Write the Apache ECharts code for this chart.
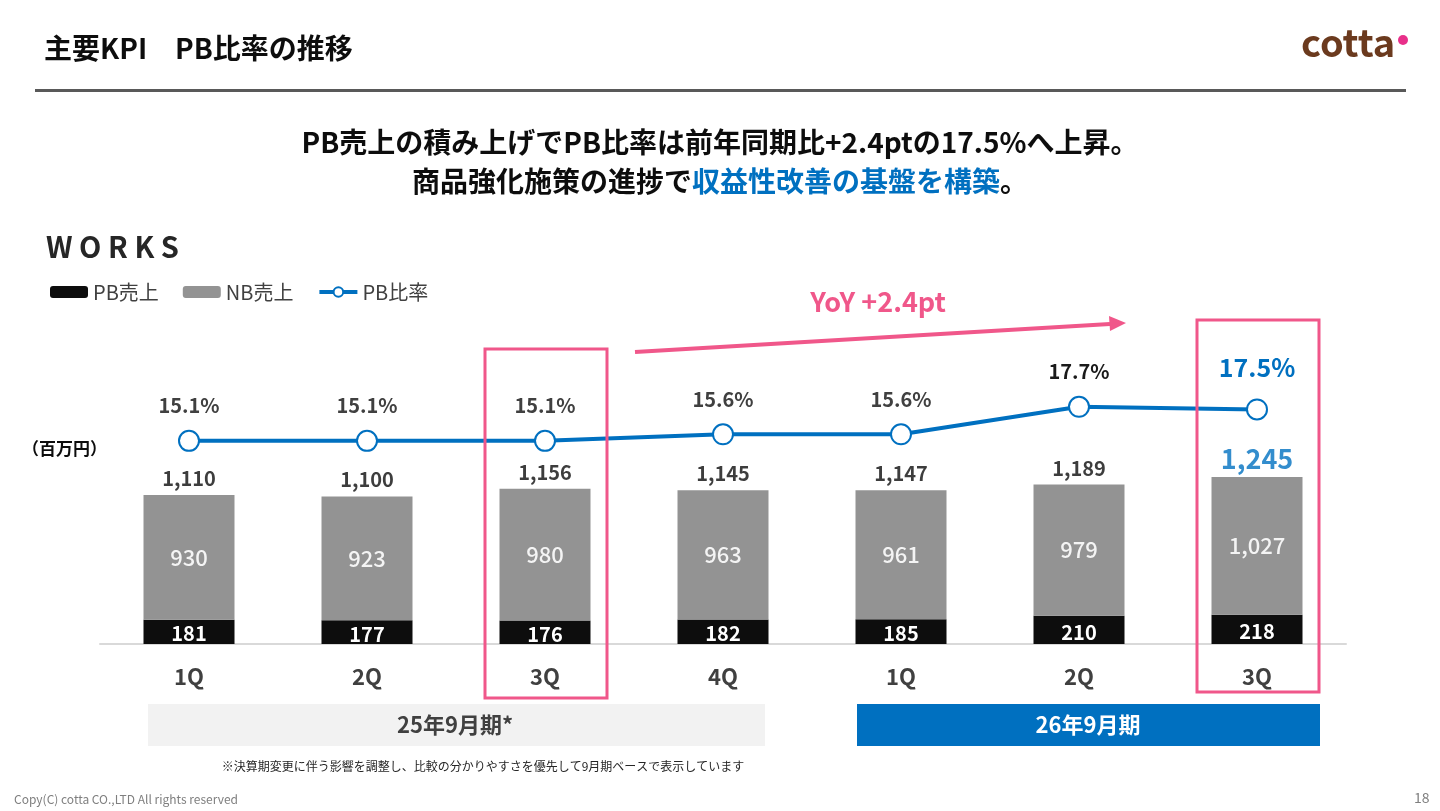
<!DOCTYPE html>
<html>
<head>
<meta charset="utf-8">
<script src="https://cdn.jsdelivr.net/npm/echarts@6/dist/echarts.min.js"></script>
<style>
  html, body { margin: 0; padding: 0; background: #fff; }
  #chart { width: 1440px; height: 811px; }
</style>
</head>
<body>
<div id="chart"></div>
<script>
// data
const quarters = ['1Q', '2Q', '3Q', '4Q', '1Q', '2Q', '3Q'];
const pbSales = [181, 177, 176, 182, 185, 210, 218];
const nbSales = [930, 923, 980, 963, 961, 979, 1027];
const totalSales = [1110, 1100, 1156, 1145, 1147, 1189, 1245];
const pbRatio = [15.1, 15.1, 15.1, 15.6, 15.6, 17.7, 17.5];
const latest = quarters.length - 1;

const FONT = '"Noto Sans CJK JP", "Noto Sans", sans-serif';
const BLUE = '#0070C0';
const PINK = '#F0578A';

var chart = echarts.init(document.getElementById('chart'));

const totalData = totalSales.map((v, i) => i === latest
  ? {value: v, label: {color: BLUE, fontSize: 27, distance: 4}}
  : v);
const ratioData = pbRatio.map((v, i) => {
  if (i === latest) return {value: v, label: {color: BLUE, fontSize: 25, distance: 18}};
  if (i === latest - 1) return {value: v, label: {color: '#1a1a1a'}};
  return v;
});

chart.setOption({
  animation: false,
  textStyle: {fontFamily: FONT},
  legend: {
    data: ['PB売上', 'NB売上', {name: 'PB比率', itemStyle: {borderWidth: 3}, lineStyle: {width: 4}}],
    left: 45,
    top: 277,
    itemWidth: 38,
    itemHeight: 12,
    itemGap: 24,
    textStyle: {fontSize: 20, color: '#404040', fontFamily: FONT}
  },
  grid: {left: 100, right: 94, top: 308.5, bottom: 167},
  xAxis: {
    type: 'category',
    data: quarters,
    axisLine: {lineStyle: {color: '#d9d9d9', width: 2}},
    axisTick: {show: false},
    axisLabel: {fontSize: 22, fontWeight: 'bold', color: '#404040', margin: 22, fontFamily: FONT}
  },
  yAxis: [
    {type: 'value', min: 0, max: 2500, show: false, splitLine: {show: false}},
    {type: 'value', min: -0.4, max: 25.2, show: false, splitLine: {show: false}}
  ],
  series: [
    {
      name: 'PB売上',
      type: 'bar',
      stack: 'sales',
      barWidth: 91,
      data: pbSales,
      itemStyle: {color: '#0d0d0d'},
      label: {show: true, position: 'inside', color: '#fff', fontSize: 20, fontWeight: 'bold', offset: [0, 2], fontFamily: FONT}
    },
    {
      name: 'NB売上',
      type: 'bar',
      stack: 'sales',
      barWidth: 91,
      data: nbSales,
      itemStyle: {color: '#939393'},
      label: {
        show: true, position: 'inside', color: '#f4f4f4', fontSize: 22, fontWeight: 500, fontFamily: FONT,
        formatter: p => p.value.toLocaleString('en-US')
      }
    },
    {
      name: 'total',
      type: 'scatter',
      data: totalData,
      symbolSize: 1,
      itemStyle: {color: 'rgba(0,0,0,0)'},
      label: {
        show: true, position: 'top', distance: 6, color: '#0d0d0d', fontSize: 20, fontWeight: 'bold', fontFamily: FONT,
        formatter: p => p.value.toLocaleString('en-US')
      },
      z: 5
    },
    {
      name: 'PB比率',
      type: 'line',
      yAxisIndex: 1,
      data: ratioData,
      symbol: 'emptyCircle',
      symbolSize: 20,
      lineStyle: {color: BLUE, width: 4},
      itemStyle: {color: BLUE, borderWidth: 4},
      label: {
        show: true, position: 'top', distance: 14, color: '#404040', fontSize: 20, fontWeight: 'bold', fontFamily: FONT,
        formatter: p => p.value.toFixed(1) + '%'
      },
      z: 6
    }
  ],
  graphic: [
    // header
    {type: 'text', left: 44, top: 34, style: {text: '主要KPI　PB比率の推移', font: 'bold 28px ' + FONT, fill: '#0d0d0d'}},
    {type: 'rect', shape: {x: 35, y: 89, width: 1371, height: 3}, style: {fill: '#595959'}},
    {type: 'text', left: 1301, top: 24, style: {text: 'cotta', font: '600 38px ' + FONT, fill: '#6B3A1E'}},
    {type: 'circle', shape: {cx: 1403, cy: 40, r: 5}, style: {fill: '#E8308A'}},
    // headline
    {type: 'text', x: 720, y: 142, style: {text: 'PB売上の積み上げでPB比率は前年同期比+2.4ptの17.5%へ上昇。', font: 'bold 28px ' + FONT, fill: '#0d0d0d', align: 'center', verticalAlign: 'middle'}},
    {type: 'text', x: 720, y: 181, style: {
      text: '{k|商品強化施策の進捗で}{b|収益性改善の基盤を構築}{k|。}',
      align: 'center', verticalAlign: 'middle',
      rich: {
        k: {font: 'bold 28px ' + FONT, fill: '#0d0d0d', color: '#0d0d0d'},
        b: {font: 'bold 28px ' + FONT, fill: BLUE, color: BLUE}
      }
    }},
    // section label
    {type: 'text', left: 46, top: 232, style: {text: 'W O R K S', font: 'bold 29px ' + FONT, fill: '#262626'}},
    {type: 'text', left: 22, top: 440, style: {text: '（百万円）', font: 'bold 17px ' + FONT, fill: '#0d0d0d'}},
    // highlight boxes
    {type: 'rect', shape: {x: 485, y: 349, width: 122, height: 349}, style: {fill: 'none', stroke: PINK, lineWidth: 3}, z: 10},
    {type: 'rect', shape: {x: 1197, y: 320, width: 122, height: 372}, style: {fill: 'none', stroke: PINK, lineWidth: 3}, z: 10},
    // yoy arrow
    {type: 'line', shape: {x1: 635, y1: 352, x2: 1110, y2: 324}, style: {stroke: PINK, lineWidth: 4}},
    {type: 'polygon', shape: {points: [[1126, 323], [1109, 316], [1110, 331]]}, style: {fill: PINK}},
    {type: 'text', x: 878, y: 302, style: {text: 'YoY +2.4pt', font: 'bold 27px ' + FONT, fill: PINK, align: 'center', verticalAlign: 'middle'}},
    // fiscal period bands
    {type: 'rect', shape: {x: 148, y: 704, width: 617, height: 42}, style: {fill: '#f2f2f2'}},
    {type: 'text', x: 455, y: 725, style: {text: '25年9月期*', font: 'bold 22px ' + FONT, fill: '#404040', align: 'center', verticalAlign: 'middle'}},
    {type: 'rect', shape: {x: 857, y: 704, width: 463, height: 42}, style: {fill: BLUE}},
    {type: 'text', x: 1088, y: 725, style: {text: '26年9月期', font: 'bold 22px ' + FONT, fill: '#fff', align: 'center', verticalAlign: 'middle'}},
    // footnotes
    {type: 'text', x: 483, y: 766, style: {text: '※決算期変更に伴う影響を調整し、比較の分かりやすさを優先して9月期ベースで表示しています', font: '12px ' + FONT, fill: '#262626', align: 'center', verticalAlign: 'middle'}},
    {type: 'text', left: 14, top: 793, style: {text: 'Copy(C) cotta CO.,LTD All rights reserved', font: '12px ' + FONT, fill: '#7f7f7f'}},
    {type: 'text', left: 1414, top: 791, style: {text: '18', font: '14px ' + FONT, fill: '#7f7f7f'}}
  ]
});
</script>
</body>
</html>
